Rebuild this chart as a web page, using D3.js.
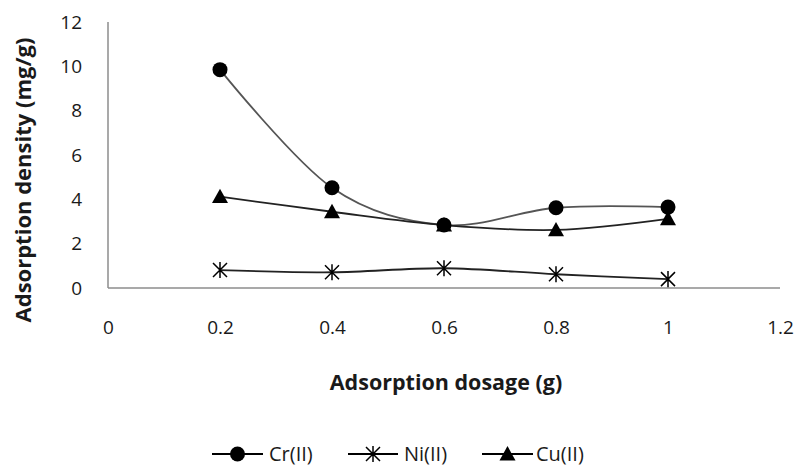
<!DOCTYPE html>
<html>
<head>
<meta charset="utf-8">
<script src="https://cdn.jsdelivr.net/npm/d3@7"></script>
<style>
  html, body { margin: 0; padding: 0; background: #fff; }
  svg { display: block; font-family: "Open Sans", "Liberation Sans", sans-serif; }
</style>
</head>
<body>
<svg id="chart" width="802" height="466"></svg>
<script>
// ---- data ----
const dosage = [0.2, 0.4, 0.6, 0.8, 1.0];
const crValues = [9.85, 4.52, 2.84, 3.62, 3.65];
const niValues = [0.81, 0.71, 0.89, 0.62, 0.40];
const cuValues = [4.12, 3.44, 2.84, 2.62, 3.12];
const seriesNames = ["Cr(II)", "Ni(II)", "Cu(II)"];
const xTicks = [0, 0.2, 0.4, 0.6, 0.8, 1, 1.2];
const yTicks = [0, 2, 4, 6, 8, 10, 12];
const xTitle = "Adsorption dosage (g)";
const yTitle = "Adsorption density (mg/g)";

const svg = d3.select("#chart");
const x = d3.scaleLinear().domain([0, 1.2]).range([108, 780]);
const y = d3.scaleLinear().domain([0, 12]).range([288, 22]);

const axisColor = "#8c8c8c";
const textColor = "#1a1a1a";

// axes lines
svg.append("line").attr("x1", x(0)).attr("x2", x(0)).attr("y1", y(12)).attr("y2", y(0))
  .attr("stroke", axisColor).attr("stroke-width", 1.5);
svg.append("line").attr("x1", x(0)).attr("x2", x(1.2)).attr("y1", y(0)).attr("y2", y(0))
  .attr("stroke", axisColor).attr("stroke-width", 1.5);

// y tick labels
const yAxis = d3.axisLeft(y).tickValues(yTicks).tickSize(0).tickPadding(26).tickFormat(d3.format("d"));
const gy = svg.append("g").attr("transform", `translate(${x(0)},0)`).call(yAxis);
gy.select(".domain").remove();
gy.selectAll("text").attr("font-size", 19).attr("fill", textColor)
  .attr("font-family", "Open Sans, sans-serif");

// x tick labels
const xAxis = d3.axisBottom(x).tickValues(xTicks).tickSize(0).tickPadding(33)
  .tickFormat(d => d3.format("")(+d.toFixed(1)));
const gx = svg.append("g").attr("transform", `translate(0,${y(0)})`).call(xAxis);
gx.select(".domain").remove();
gx.selectAll("text").attr("font-size", 19).attr("fill", textColor)
  .attr("font-family", "Open Sans, sans-serif");

// titles
svg.append("text").attr("x", 446).attr("y", 382).attr("dy", "0.35em")
  .attr("text-anchor", "middle").attr("font-weight", "bold").attr("font-size", 21.5)
  .attr("fill", textColor).text(xTitle);
svg.append("text").attr("transform", "translate(23,180) rotate(-90)").attr("dy", "0.35em")
  .attr("text-anchor", "middle").attr("font-weight", "bold").attr("font-size", 22)
  .attr("fill", textColor).text(yTitle);

// series
const series = [
  { name: seriesNames[0], values: crValues, marker: "circle", color: "#555" },
  { name: seriesNames[1], values: niValues, marker: "star", color: "#222" },
  { name: seriesNames[2], values: cuValues, marker: "triangle", color: "#222" }
];

const line = d3.line().x(d => x(d[0])).y(d => y(d[1])).curve(d3.curveCatmullRom.alpha(0));

function drawMarker(g, type, cx, cy) {
  if (type === "circle") {
    g.append("circle").attr("cx", cx).attr("cy", cy).attr("r", 7.5).attr("fill", "#000");
  } else if (type === "triangle") {
    const s = 8;
    g.append("path").attr("d", `M${cx},${cy - s} L${cx + s},${cy + s * 0.8} L${cx - s},${cy + s * 0.8} Z`)
      .attr("fill", "#000");
  } else if (type === "star") {
    const s = 7;
    g.append("path").attr("d",
      `M${cx - s},${cy - s} L${cx + s},${cy + s} M${cx - s},${cy + s} L${cx + s},${cy - s} M${cx},${cy - s * 1.15} L${cx},${cy + s * 1.15}`)
      .attr("stroke", "#000").attr("stroke-width", 1.5).attr("fill", "none");
  }
}

series.forEach(s => {
  const pts = dosage.map((d, i) => [d, s.values[i]]);
  svg.append("path").datum(pts).attr("d", line).attr("fill", "none")
    .attr("stroke", s.color).attr("stroke-width", 1.8);
});
series.forEach(s => {
  const g = svg.append("g");
  dosage.forEach((d, i) => drawMarker(g, s.marker, x(d), y(s.values[i])));
});

// legend
const legendY = 454;
const legendItems = [
  { x0: 212, x1: 263, tx: 269 },
  { x0: 348, x1: 398, tx: 404 },
  { x0: 482, x1: 533, tx: 536 }
];
series.forEach((s, i) => {
  const li = legendItems[i];
  const g = svg.append("g");
  g.append("line").attr("x1", li.x0).attr("x2", li.x1).attr("y1", legendY).attr("y2", legendY)
    .attr("stroke", "#000").attr("stroke-width", 1.8);
  drawMarker(g, s.marker, (li.x0 + li.x1) / 2, legendY);
  g.append("text").attr("x", li.tx).attr("y", legendY).attr("dy", "0.35em")
    .attr("font-size", 20).attr("fill", textColor).text(s.name);
});
</script>
</body>
</html>
